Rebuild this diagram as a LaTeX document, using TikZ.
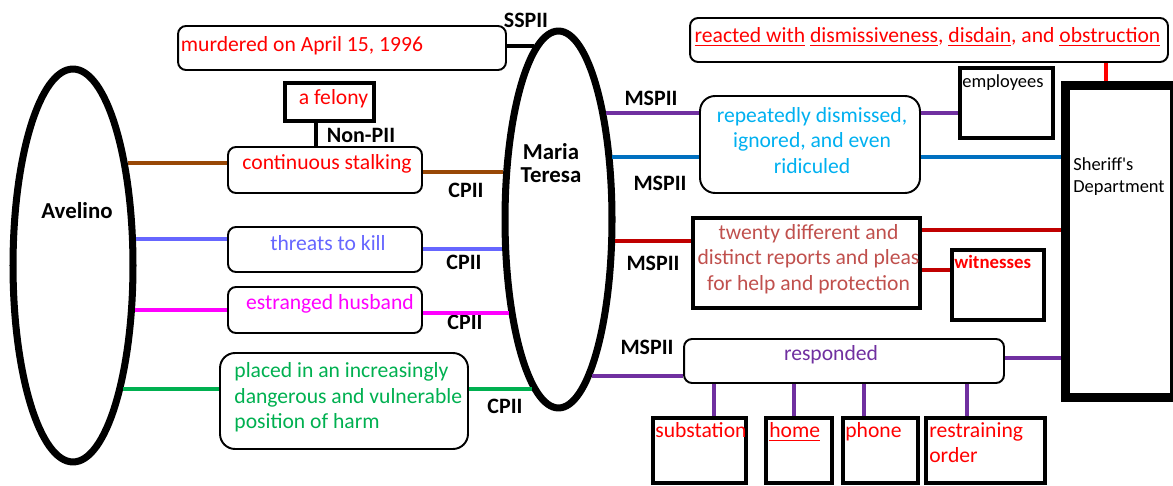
\documentclass[tikz,border=0pt]{standalone}
\usepackage{fontspec}
\setmainfont{Carlito}
\newfontfamily\plainfont[Ligatures=TeXOff]{Carlito}
\usepackage{tikz}
\usetikzlibrary{shapes.geometric, positioning}

\definecolor{brownline}{HTML}{984806}
\definecolor{threatblue}{HTML}{6666FF}
\definecolor{harmgreen}{HTML}{00B050}
\definecolor{husbandpink}{HTML}{FF00FF}
\definecolor{skyblue}{HTML}{00B0F0}
\definecolor{deptblue}{HTML}{0070C0}
\definecolor{mspurple}{HTML}{7030A0}
\definecolor{darkred}{HTML}{C00000}
\definecolor{pleared}{HTML}{C0504D}

% underline drawn as a rule of its own
\newcommand{\undr}[1]{\leavevmode\setbox0=\hbox{#1}\rlap{\rule[-2.2pt]{\wd0}{0.9pt}}\box0\relax}

\begin{document}
\begin{tikzpicture}[
        x=0.02cm, y=-0.02cm,
        font=\fontsize{12.3}{14.5}\selectfont,
        person/.style={
            ellipse,
            draw,
            line width=4pt,
            inner sep=0pt
        },
        rbox/.style={rectangle, draw, rounded corners=0.16cm, line width=1.1pt},
        sbox/.style={rectangle, draw, line width=2.3pt},
        txt/.style={inner sep=0pt},
        tag/.style={inner sep=0pt, font=\fontsize{12.5}{14}\selectfont\bfseries},
        link/.style={line width=2.3pt},
        vlink/.style={line width=2.8pt, mspurple}
    ]
        \useasboundingbox (0,0) rectangle (1173,486);

        % People
        \node[person, minimum width=2.4cm, minimum height=7.86cm] (avelino) at (73,265.5) {};
        \node[tag, font=\fontsize{13}{14}\selectfont\bfseries] (avname) at (77,211) {Avelino};
        \node[person, minimum width=2.14cm, minimum height=7.54cm] (maria) at (558.5,219.5) {};
        \node[tag, align=center, font=\fontsize{13}{13.2}\selectfont\bfseries] (mariname) at (551,163) {Maria\\Teresa};

        % Middle boxes
        \node[rbox, minimum width=6.56cm, minimum height=0.88cm,
            label={[txt, text=red, anchor=west, xshift=0.07cm, yshift=0.04cm]west:murdered on April 15, 1996}] (murder) at (342,48) {};
        \node[sbox, minimum width=1.78cm, minimum height=0.76cm,
            label={[txt, text=red, xshift=0.08cm, yshift=0.06cm]center:a felony}] (felony) at (329.5,102) {};
        \node[rbox, minimum width=3.88cm, minimum height=0.92cm,
            label={[txt, text=red, xshift=0.04cm, yshift=0.12cm]center:continuous stalking}] (stalk) at (325,170) {};
        \node[rbox, minimum width=3.88cm, minimum height=0.9cm,
            label={[txt, text=threatblue, xshift=0.06cm, yshift=0.12cm]center:threats to kill}] (threat) at (325,249.5) {};
        \node[rbox, minimum width=3.88cm, minimum height=0.92cm,
            label={[txt, text=husbandpink, xshift=0.1cm, yshift=0.13cm]center:estranged husband}] (husband) at (325,310) {};
        \node[rbox, rounded corners=0.3cm, minimum width=4.96cm, minimum height=1.92cm,
            label={[txt, text=harmgreen, anchor=west, align=left, xshift=0.3cm, yshift=0.07cm]west:placed in an increasingly\\dangerous and vulnerable\\position of harm}] (placed) at (344,401) {};

        % Right side boxes
        \node[rbox, minimum width=9.56cm, minimum height=0.88cm,
            label={[txt, text=red, xshift=-0.03cm, yshift=0.06cm]center:\undr{reacted with} \undr{dismissiveness}, \undr{disdain}, and \undr{obstruction}}] (react) at (929,40) {};
        \node[sbox, minimum width=1.86cm, minimum height=1.4cm,
            label={[txt, anchor=north west, xshift=0.08cm, yshift=-0.16cm, font=\fontsize{10.5}{12}\selectfont]north west:employees}] (emp) at (1006.5,103) {};
        \node[sbox, line width=5.1pt, minimum width=2.18cm, minimum height=6.26cm] (sheriff) at (1119.5,241.5) {};
        \node[txt, anchor=west, align=left, font=\plainfont\fontsize{10.5}{12.5}\selectfont] (sheriffname) at (1073,177) {Sheriff's\\Department};
        \node[rbox, rounded corners=0.3cm, minimum width=4.4cm, minimum height=1.94cm,
            label={[txt, text=skyblue, align=center, xshift=0.04cm, yshift=0.08cm]center:repeatedly dismissed,\\ignored, and even\\ridiculed}] (repeat) at (810,144.5) {};
        \node[sbox, minimum width=4.54cm, minimum height=1.8cm,
            label={[txt, text=pleared, align=center, xshift=0.04cm, yshift=0.08cm]center:twenty different and\\distinct reports and pleas\\for help and protection}] (twenty) at (806.5,263) {};
        \node[sbox, minimum width=1.84cm, minimum height=1.4cm,
            label={[txt, text=red, anchor=north west, xshift=0.08cm, yshift=-0.14cm, font=\fontsize{10.7}{12}\selectfont\bfseries]north west:witnesses}] (wit) at (998,285) {};
        \node[rbox, minimum width=6.4cm, minimum height=0.88cm,
            label={[txt, text=mspurple, xshift=-0.26cm, yshift=0.12cm]center:responded}] (resp) at (844,361) {};

        % Ways of responding
        \node[sbox, minimum width=1.86cm, minimum height=1.3cm,
            label={[txt, text=red, anchor=north west, xshift=0.08cm, yshift=-0.12cm]north west:substation}] (sub) at (699.5,450.5) {};
        \node[sbox, minimum width=1.32cm, minimum height=1.3cm,
            label={[txt, text=red, anchor=north west, xshift=0.1cm, yshift=-0.12cm]north west:\undr{home}}] (home) at (799,450.5) {};
        \node[sbox, minimum width=1.5cm, minimum height=1.3cm,
            label={[txt, text=red, anchor=north west, xshift=0.08cm, yshift=-0.12cm]north west:phone}] (phone) at (880.5,450.5) {};
        \node[sbox, minimum width=2.38cm, minimum height=1.3cm,
            label={[txt, text=red, anchor=north west, align=left, xshift=0.1cm, yshift=-0.12cm]north west:restraining\\order}] (order) at (985.5,450.5) {};

        % Link types
        \node[tag] (sspii) at (526,20) {SSPII};
        \node[tag] (nonpii) at (361,135) {Non-PII};
        \node[tag] (cpii1) at (466,190) {CPII};
        \node[tag] (cpii2) at (464,262) {CPII};
        \node[tag] (cpii3) at (465,322) {CPII};
        \node[tag] (cpii4) at (505,406) {CPII};
        \node[tag] (mspii1) at (651,98) {MSPII};
        \node[tag] (mspii2) at (660,183) {MSPII};
        \node[tag] (mspii3) at (653,263) {MSPII};
        \node[tag] (mspii4) at (647,347) {MSPII};

        % Avelino -- Maria Teresa
        \draw[link] (murder.east |- maria.98) -- (maria.98);
        \draw[link] ([xshift=-0.27cm]felony.south) -- ([xshift=-0.27cm]felony.south |- stalk.north);
        \draw[link, brownline] (avelino.62) -- (avelino.62 -| stalk.west);
        \draw[link, brownline] (stalk.east |- maria.139) -- (maria.139);
        \draw[link, threatblue] (avelino.23) -- (avelino.23 -| threat.west);
        \draw[link, threatblue] (threat.east |- maria.208) -- (maria.208);
        \draw[link, husbandpink] (avelino.324) -- (avelino.324 -| husband.west);
        \draw[link, husbandpink] (husband.east |- maria.242) -- (maria.242);
        \draw[link, harmgreen] (avelino.292) -- (avelino.292 -| placed.west);
        \draw[link, harmgreen] (placed.east |- maria.261) -- (maria.261);

        % Maria Teresa -- Sheriff's Department
        \draw[link, mspurple] (maria.66) -- (maria.66 -| repeat.west);
        \draw[link, mspurple] (repeat.east |- maria.66) -- (emp.west |- maria.66);
        \draw[link, deptblue] (maria.49) -- (maria.49 -| repeat.west);
        \draw[link, deptblue] (repeat.east |- maria.49) -- (sheriff.west |- maria.49);
        \draw[link, darkred] (maria.339) -- (maria.339 -| twenty.west);
        \draw[link, darkred] ([yshift=0.66cm]twenty.east) -- ([yshift=0.66cm]twenty.east -| sheriff.west);
        \draw[link, darkred] ([yshift=-0.14cm]twenty.east) -- ([yshift=-0.14cm]twenty.east -| wit.west);
        \draw[link, mspurple] (maria.282) -- (maria.282 -| resp.west);
        \draw[link, mspurple] ([yshift=0.06cm]resp.east) -- ([yshift=0.06cm]resp.east -| sheriff.west);
        \draw[link, red] ([xshift=-0.27cm]sheriff.north) -- ([xshift=-0.27cm]sheriff.north |- react.south);

        % responded ... how
        \draw[vlink] ([xshift=0.29cm]sub.north) -- ([xshift=0.29cm]sub.north |- resp.south);
        \draw[vlink] ([xshift=-0.1cm]home.north) -- ([xshift=-0.1cm]home.north |- resp.south);
        \draw[vlink] ([xshift=-0.33cm]phone.north) -- ([xshift=-0.33cm]phone.north |- resp.south);
        \draw[vlink] ([xshift=-0.37cm]order.north) -- ([xshift=-0.37cm]order.north |- resp.south);

    \end{tikzpicture}
\end{document}
